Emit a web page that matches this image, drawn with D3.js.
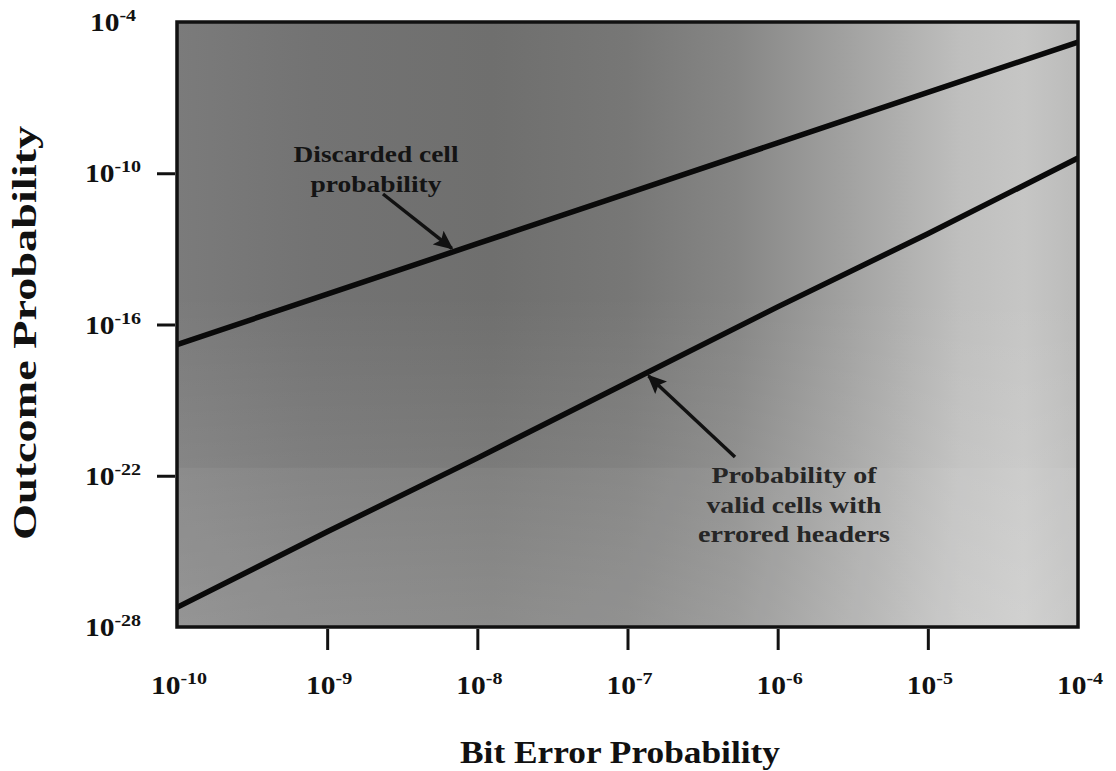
<!DOCTYPE html>
<html>
<head>
<meta charset="utf-8">
<script src="https://cdn.jsdelivr.net/npm/d3@7"></script>
<style>
  body { margin: 0; background: #fff; }
  svg { display: block; font-family: "Liberation Serif", "Times New Roman", serif; font-weight: bold; }
</style>
</head>
<body>
<svg id="chart" width="1116" height="771"></svg>
<script>
//  data
const ber = [1e-10, 1e-9, 1e-8, 1e-7, 1e-6, 1e-5, 1e-4];
const discarded = [1.6e-17, 1.6e-15, 1.6e-13, 1.6e-11, 1.6e-9, 1.6e-7, 1.6e-5];
const valid_errored = [6e-28, 6e-25, 5e-22, 5e-19, 5e-16, 4e-13, 4e-10];

const x_tick_values = [1e-9, 1e-8, 1e-7, 1e-6, 1e-5];
const x_label_values = [1e-10, 1e-9, 1e-8, 1e-7, 1e-6, 1e-5, 1e-4];
const y_tick_values = [1e-10, 1e-16, 1e-22];
const y_label_values = [1e-4, 1e-10, 1e-16, 1e-22, 1e-28];

const x_title = "Bit Error Probability";
const y_title = "Outcome Probability";
const label_discarded = ["Discarded cell", "probability"];
const label_valid = ["Probability of", "valid cells with", "errored headers"];

//  draw chart
function draw_chart() {
  const margin = ({top: 22, right: 38, bottom: 144, left: 177});
  const w = 1116, h = 771;
  const svg = d3.select("#chart");

  const x = d3.scaleLog().domain([1e-10, 1e-4]).range([margin.left, w - margin.right]);
  const y = d3.scaleLog().domain([1e-28, 1e-4]).range([h - margin.bottom, margin.top]);

  //  background gradient
  const defs = svg.append("defs");
  const grad = defs.append("linearGradient").attr("id", "bg").attr("x1", 0).attr("x2", 1).attr("y1", 0).attr("y2", 0);
  [[0, "#7b7b7b"], [0.15, "#737373"], [0.35, "#6f6f6e"], [0.5, "#777776"], [0.62, "#868685"],
   [0.75, "#a3a3a2"], [0.87, "#bfbfbe"], [0.94, "#c6c6c5"], [1, "#bbbbba"]].forEach(s => {
    grad.append("stop").attr("offset", s[0]).attr("stop-color", s[1]);
  });
  const vgrad = defs.append("linearGradient").attr("id", "bgv").attr("x1", 0).attr("x2", 0).attr("y1", 0).attr("y2", 1);
  vgrad.append("stop").attr("offset", 0.45).attr("stop-color", "#fff").attr("stop-opacity", 0);
  vgrad.append("stop").attr("offset", 1).attr("stop-color", "#fff").attr("stop-opacity", 0.16);

  defs.append("marker")
    .attr("id", "arrow")
    .attr("viewBox", "0 0 10 10")
    .attr("refX", 9).attr("refY", 5)
    .attr("markerWidth", 5.5).attr("markerHeight", 5.5)
    .attr("markerUnits", "strokeWidth")
    .attr("orient", "auto")
    .append("path").attr("d", "M0,0.5 L10,5 L0,9.5 L2,5 Z").attr("fill", "#111");

  const pw = x.range()[1] - x.range()[0];
  const ph = y.range()[0] - y.range()[1];

  svg.append("rect")
    .attr("x", x.range()[0]).attr("y", y.range()[1])
    .attr("width", pw).attr("height", ph)
    .attr("fill", "url(#bg)");
  svg.append("rect")
    .attr("x", x.range()[0]).attr("y", y.range()[1])
    .attr("width", pw).attr("height", ph)
    .attr("fill", "url(#bgv)");
  //  lighter band at the bottom of the scan
  svg.append("rect")
    .attr("x", x.range()[0]).attr("y", y(1e-22) - 8)
    .attr("width", pw).attr("height", y.range()[0] - y(1e-22) + 8)
    .attr("fill", "#fff").attr("opacity", 0.05);

  //  lines
  const line = d3.line().x(d => x(d[0])).y(d => y(d[1]));
  [discarded, valid_errored].forEach(series => {
    svg.append("path")
      .datum(ber.map((b, i) => [b, series[i]]))
      .attr("d", line)
      .attr("fill", "none")
      .attr("stroke", "#0a0a0a")
      .attr("stroke-width", 5.5);
  });

  //  frame
  svg.append("rect")
    .attr("x", x.range()[0]).attr("y", y.range()[1])
    .attr("width", pw).attr("height", ph)
    .attr("fill", "none").attr("stroke", "#111").attr("stroke-width", 3.5);

  //  axes (ticks only)
  const xAxis = g => g
    .attr("transform", `translate(0,${y.range()[0] + 2})`)
    .call(d3.axisBottom(x).tickValues(x_tick_values).tickSize(21).tickFormat(""));
  const yAxis = g => g
    .attr("transform", `translate(${x.range()[0] - 2},0)`)
    .call(d3.axisLeft(y).tickValues(y_tick_values).tickSize(18).tickFormat(""));

  svg.append("g").call(xAxis);
  svg.append("g").call(yAxis);
  svg.selectAll(".domain").remove();
  svg.selectAll(".tick line").attr("stroke", "#111").attr("stroke-width", 3);

  //  tick labels 10^n
  const power_label = (cx, cy, v) => {
    const e = Math.round(Math.log10(v));
    const t = svg.append("g")
      .attr("transform", `translate(${cx},${cy}) scale(1.18,1)`)
      .append("text")
      .attr("text-anchor", "middle")
      .attr("fill", "#111");
    t.append("tspan").attr("font-size", 25).text("10");
    t.append("tspan").attr("font-size", 17).attr("dy", -10).text("-" + Math.abs(e));
  };

  x_label_values.forEach(v => power_label(x(v) + 2, 694, v));
  y_label_values.forEach(v => power_label(113, y(v) + 9, v));

  //  axis titles
  svg.append("text")
    .attr("x", 620).attr("y", 763)
    .attr("text-anchor", "middle")
    .attr("font-size", 32)
    .attr("textLength", 320)
    .attr("lengthAdjust", "spacingAndGlyphs")
    .attr("fill", "#111")
    .text(x_title);

  svg.append("text")
    .attr("transform", "translate(36,333) rotate(-90)")
    .attr("text-anchor", "middle")
    .attr("font-size", 34)
    .attr("textLength", 414)
    .attr("lengthAdjust", "spacingAndGlyphs")
    .attr("fill", "#111")
    .text(y_title);

  //  annotations
  const log_interp = (series, b) => {
    const lb = Math.log10(b);
    const i = Math.min(ber.length - 2, Math.floor(lb - Math.log10(ber[0])));
    const t = (lb - Math.log10(ber[i])) / (Math.log10(ber[i + 1]) - Math.log10(ber[i]));
    return Math.pow(10, Math.log10(series[i]) + t * (Math.log10(series[i + 1]) - Math.log10(series[i])));
  };

  const annotate = (lines, widths, cx, base, gap, fill, size, tail, at, series) => {
    lines.forEach((s, i) => {
      svg.append("text")
        .attr("x", cx).attr("y", base + i * gap)
        .attr("text-anchor", "middle")
        .attr("font-size", size)
        .attr("textLength", widths[i])
        .attr("lengthAdjust", "spacingAndGlyphs")
        .attr("fill", fill)
        .text(s);
    });
    const ty = y(log_interp(series, at));
    svg.append("line")
      .attr("x1", tail[0]).attr("y1", tail[1])
      .attr("x2", x(at)).attr("y2", ty + (tail[1] < ty ? -4 : 4))
      .attr("stroke", "#111").attr("stroke-width", 3.5)
      .attr("marker-end", "url(#arrow)");
  };

  annotate(label_discarded, [165, 131], 376, 162, 30, "#141414", 24, [383, 194], Math.pow(10, -8.17), discarded);
  annotate(label_valid, [165, 175, 192], 794, 483, 29.5, "#262626", 24, [735, 457], Math.pow(10, -6.86), valid_errored);
}

draw_chart();
</script>
</body>
</html>
